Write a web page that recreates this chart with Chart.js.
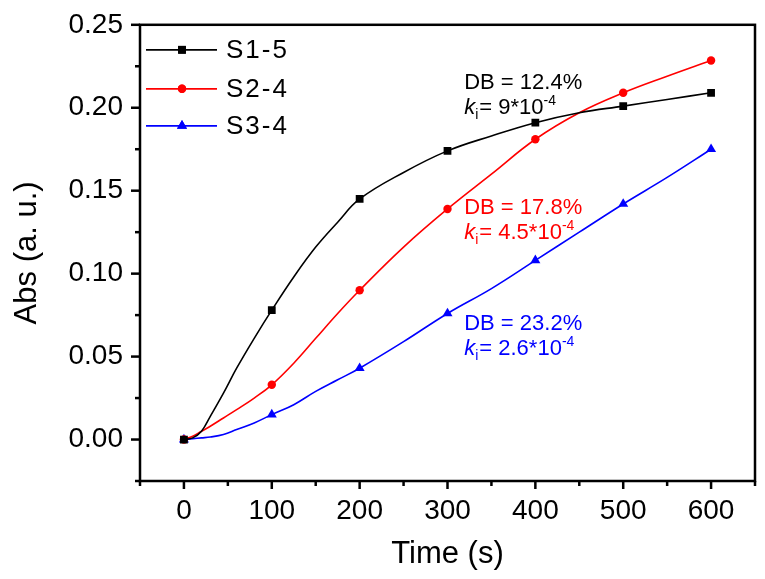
<!DOCTYPE html>
<html>
<head>
<meta charset="utf-8">
<script src="https://cdn.jsdelivr.net/npm/chart.js@4.4.0/dist/chart.umd.min.js"></script>
<style>
html, body { margin: 0; padding: 0; background: #fff; }
</style>
</head>
<body>
<canvas id="grafico" width="765" height="579"></canvas>
<script>
// Tiempos de lectura (s), comunes a las tres curvas
const tiempos = [0, 10, 20, 30, 45, 60, 80, 100, 125, 150, 175, 200, 250, 300, 350, 400, 450, 500, 550, 600];
// Absorbancia
const absS1 = [0, 0.001, 0.005, 0.014, 0.028, 0.043, 0.061, 0.078, 0.098, 0.116, 0.131, 0.145, 0.161, 0.174, 0.183, 0.191, 0.197, 0.201, 0.205, 0.209];
const absS2 = [0, 0.002, 0.005, 0.008, 0.013, 0.018, 0.025, 0.033, 0.046, 0.061, 0.076, 0.090, 0.116, 0.139, 0.160, 0.181, 0.197, 0.209, 0.219, 0.2285];
const absS3 = [0, 0.0005, 0.001, 0.0015, 0.003, 0.006, 0.010, 0.015, 0.021, 0.029, 0.036, 0.043, 0.059, 0.076, 0.091, 0.108, 0.125, 0.142, 0.158, 0.175];

const nombres = ['S1-5', 'S2-4', 'S3-4'];
const series = [absS1, absS2, absS3];
const colores = ['#000000', '#ff0000', '#0000ff'];
const marcadores = ['rect', 'circle', 'triangle'];
const tamMarcador = [5.5, 4.2, 5.8];

// Rangos de ejes
const xMin = -50, xMax = 650, xPaso = 50;
const yMin = -0.025, yMax = 0.25, yPaso = 0.025;

// Notas: DB y k_i de cada muestra
const notasDB = ['DB = 12.4%', 'DB = 17.8%', 'DB = 23.2%'];
const notasK = ['9*10', '4.5*10', '2.6*10'];
const notaX = [319, 319, 319];
const notaY = [0.2163, 0.1407, 0.0710];

const FUENTE = '"Liberation Sans", Arial, sans-serif';

const datasets = series.map((vals, i) => ({
	label: nombres[i],
	data: tiempos.map((t, j) => ({ x: t, y: vals[j] })),
	borderColor: colores[i],
	backgroundColor: colores[i],
	borderWidth: 1.6,
	tension: 0.4,
	pointStyle: marcadores[i],
	pointRadius: ctx => (ctx.raw && ctx.raw.x % 100 === 0 ? tamMarcador[i] : 0),
	pointBorderWidth: 0,
	pointHoverRadius: 0
}));

// Marco, ticks mayores/menores, leyenda y notas
const dibujoExtra = {
	id: 'dibujoExtra',
	afterDraw(chart) {
		const ctx = chart.ctx;
		const a = chart.chartArea;
		const sx = chart.scales.x, sy = chart.scales.y;
		ctx.save();
		ctx.strokeStyle = '#000';
		ctx.lineWidth = 2.5;
		ctx.strokeRect(a.left, a.top, a.right - a.left, a.bottom - a.top);
		sx.ticks.forEach(t => {
			const px = sx.getPixelForValue(t.value);
			const mayor = Math.round(t.value) % 100 === 0;
			ctx.beginPath();
			ctx.moveTo(px, a.bottom);
			ctx.lineTo(px, a.bottom + (mayor ? 8 : 5));
			ctx.stroke();
		});
		sy.ticks.forEach(t => {
			const py = sy.getPixelForValue(t.value);
			const mayor = Math.round(t.value * 1000) % 50 === 0;
			ctx.beginPath();
			ctx.moveTo(a.left, py);
			ctx.lineTo(a.left - (mayor ? 9 : 5), py);
			ctx.stroke();
		});

		// leyenda
		ctx.textBaseline = 'middle';
		ctx.textAlign = 'left';
		ctx.font = '26px ' + FUENTE;
		ctx.letterSpacing = '2px';
		const filas = [25, 64, 101];
		nombres.forEach((n, i) => {
			const y = a.top + filas[i];
			ctx.strokeStyle = colores[i];
			ctx.lineWidth = 1.8;
			ctx.beginPath();
			ctx.moveTo(a.left + 6, y);
			ctx.lineTo(a.left + 77, y);
			ctx.stroke();
			ctx.fillStyle = colores[i];
			Chart.helpers.drawPoint(ctx, { pointStyle: marcadores[i], radius: tamMarcador[i], borderWidth: 0 }, a.left + 42, y);
			ctx.fill();
			ctx.fillStyle = '#000';
			ctx.fillText(n, a.left + 86, y + 1);
		});
		ctx.letterSpacing = '0px';

		// notas
		notasDB.forEach((txt, i) => {
			const x = sx.getPixelForValue(notaX[i]);
			const y = sy.getPixelForValue(notaY[i]);
			ctx.fillStyle = colores[i];
			ctx.textBaseline = 'alphabetic';
			ctx.font = '22px ' + FUENTE;
			ctx.fillText(txt, x, y + 8);
			const yb = y + 33;
			let cx = x;
			ctx.font = 'italic 22px ' + FUENTE;
			ctx.fillText('k', cx, yb);
			cx += ctx.measureText('k').width;
			ctx.font = '14px ' + FUENTE;
			ctx.fillText('i', cx, yb + 5);
			cx += ctx.measureText('i').width + 1;
			ctx.font = '22px ' + FUENTE;
			const cuerpo = '= ' + notasK[i];
			ctx.fillText(cuerpo, cx, yb);
			cx += ctx.measureText(cuerpo).width;
			ctx.font = '14px ' + FUENTE;
			ctx.fillText('-4', cx, yb - 9);
		});
		ctx.restore();
	}
};

new Chart(document.getElementById('grafico'), {
	type: 'line',
	data: { datasets },
	options: {
		responsive: false,
		animation: false,
		devicePixelRatio: 1,
		layout: { padding: { top: 22, right: 10, left: 0, bottom: 0 } },
		plugins: { legend: { display: false }, tooltip: { enabled: false } },
		scales: {
			x: {
				type: 'linear',
				min: xMin, max: xMax,
				border: { display: false },
				grid: { drawOnChartArea: false, color: 'transparent', tickLength: 9 },
				ticks: {
					stepSize: xPaso, autoSkip: false, maxRotation: 0, padding: 4,
					color: '#000', font: { family: FUENTE, size: 28 },
					callback: v => (Math.round(v) % 100 === 0 ? String(v) : '')
				},
				title: { display: true, text: 'Time (s)', color: '#000', font: { family: FUENTE, size: 31 }, padding: { top: 0, bottom: 6 } },
				afterFit: s => { s.height = 98; }
			},
			y: {
				min: yMin, max: yMax,
				border: { display: false },
				grid: { drawOnChartArea: false, color: 'transparent', tickLength: 9 },
				ticks: {
					stepSize: yPaso, autoSkip: false, padding: 8,
					color: '#000', font: { family: FUENTE, size: 28 },
					callback: v => (Math.round(v * 1000) % 50 === 0 ? v.toFixed(2) : '')
				},
				title: { display: true, text: 'Abs (a. u.)', color: '#000', font: { family: FUENTE, size: 31 }, padding: { top: 9, bottom: 0 } },
				afterFit: s => { s.width = 140; }
			}
		}
	},
	plugins: [dibujoExtra]
});
</script>
</body>
</html>
